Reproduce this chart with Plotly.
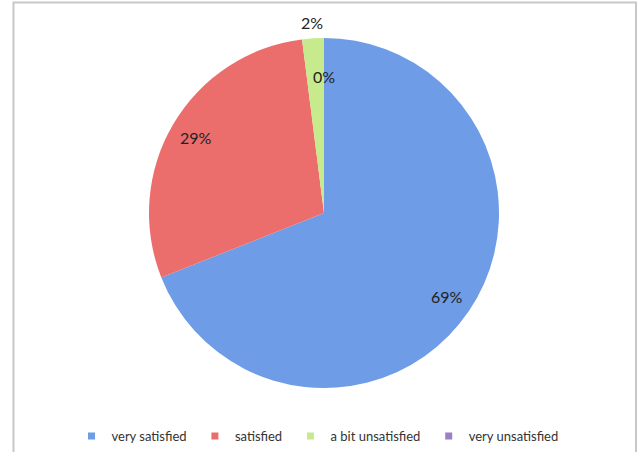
import math
import plotly.graph_objects as go

categories = ["very satisfied", "satisfied", "a bit unsatisfied", "very unsatisfied"]
values = [69, 29, 2, 0]
colors = ["#6E9CE6", "#EB6E6D", "#C6EA8C", "#9B80C6"]

W, H = 639, 452
cx, cy, r = 324, 213, 175
FONT = "Lato, Open Sans, sans-serif"

fig = go.Figure(go.Pie(
    labels=categories,
    values=values,
    sort=False,
    direction="clockwise",
    rotation=0,
    marker=dict(colors=colors, line=dict(width=0)),
    textinfo="none",
    hoverinfo="label+percent",
    showlegend=False,
    domain=dict(x=[(cx - r) / W, (cx + r) / W], y=[1 - (cy + r) / H, 1 - (cy - r) / H]),
))

# legend entries with small square markers
for cat, col in zip(categories, colors):
    fig.add_trace(go.Scatter(x=[None], y=[None], mode="markers", name=cat + "\u00a0",
                             marker=dict(symbol="square", size=7, color=col),
                             showlegend=True, hoverinfo="skip"))

# percentage labels placed along each slice's mid-angle
total = sum(values)
annotations = []
cum = 0
for v in values:
    share = v / total
    mid = (cum + share / 2) * 2 * math.pi
    cum += share
    if share == 0:
        rf = 0.78
    elif share < 0.05:
        rf = 1.09
    else:
        rf = 0.85
    px = cx + rf * r * math.sin(mid)
    py = cy - rf * r * math.cos(mid)
    annotations.append(dict(x=px / W, y=1 - py / H, xref="paper", yref="paper",
                            text=f"{round(share * 100)}%", showarrow=False,
                            xanchor="center", yanchor="middle",
                            font=dict(family=FONT, size=16, color="#222222")))

fig.update_layout(
    width=W, height=H,
    margin=dict(l=0, r=0, t=0, b=0),
    paper_bgcolor="white",
    plot_bgcolor="white",
    xaxis=dict(visible=False),
    yaxis=dict(visible=False),
    font=dict(family=FONT, size=13, color="#333333"),
    legend=dict(orientation="h", x=0.5, xanchor="center", y=1 - 436 / H, yanchor="middle",
                font=dict(family=FONT, size=13, color="#333333"), itemwidth=30),
    annotations=annotations,
    shapes=[dict(type="rect", xref="paper", yref="paper",
                 x0=13.5 / W, x1=636 / W, y0=-0.1, y1=1 - 2.5 / H,
                 line=dict(color="#C8C8C8", width=2), fillcolor="rgba(0,0,0,0)")],
)

fig.write_html("out.html")
